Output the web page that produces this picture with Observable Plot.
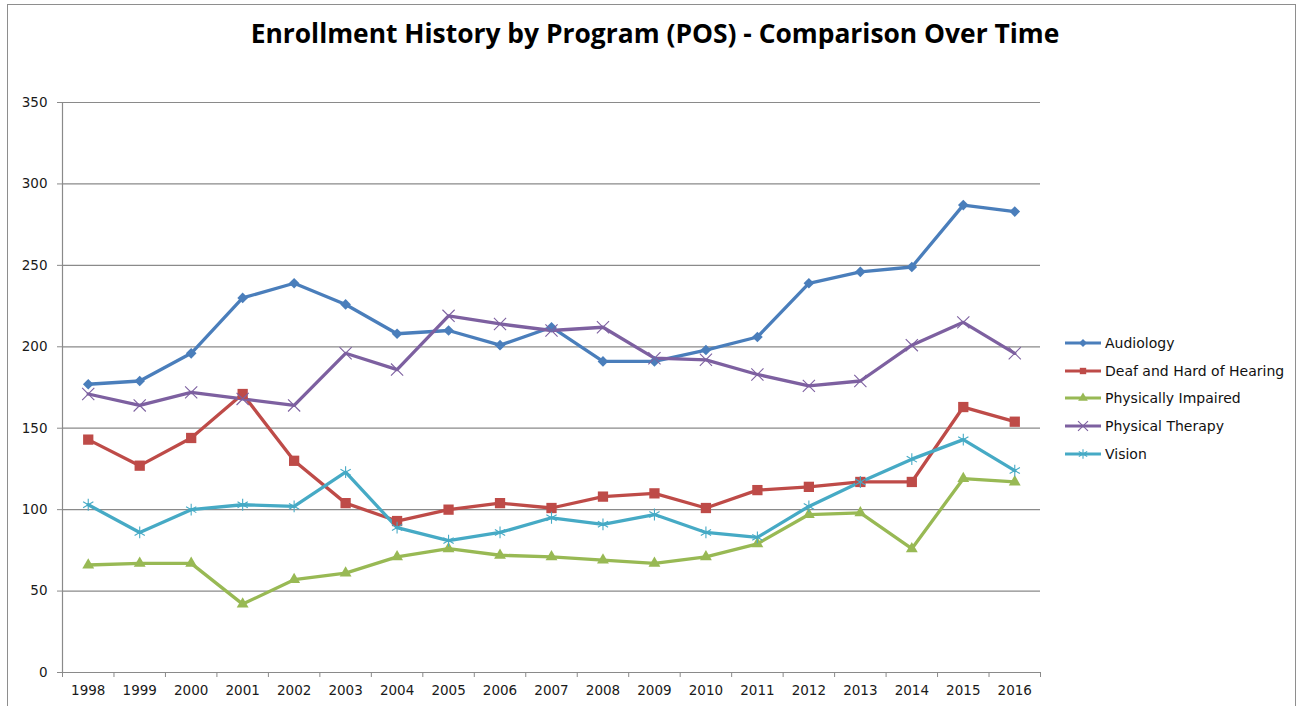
<!DOCTYPE html>
<html>
<head>
<meta charset="utf-8">
<script src="https://cdn.jsdelivr.net/npm/d3@7"></script>
<script src="https://cdn.jsdelivr.net/npm/@observablehq/plot@0.6"></script>
<style>
  html, body { margin: 0; padding: 0; background: #fff; }
  #wrap { position: relative; width: 1304px; height: 706px; overflow: hidden; font-family: "DejaVu Sans", sans-serif; }
  #frame { position: absolute; left: 7px; top: 4px; width: 1289px; height: 760px; border: 1.5px solid #8e8e8e; box-sizing: border-box; }
  #title { position: absolute; left: 0; width: 1310px; top: 15px; text-align: center; font-family: "Open Sans", Lato, sans-serif; font-weight: bold; font-size: 26.4px; color: #000; }
  #chart { position: absolute; left: 0; top: 0; }
  #legend { position: absolute; left: 1064px; top: 329px; font-size: 14px; color: #111; }
  #legend .row { height: 27.8px; display: flex; align-items: center; }
  #legend svg { margin-right: 3px; }
</style>
</head>
<body>
<div id="wrap">
  <div id="frame"></div>
  <div id="chart"></div>
  <div id="title">Enrollment History by Program (POS) - Comparison Over Time</div>
  <div id="legend"></div>
</div>
<script>
const years = [1998,1999,2000,2001,2002,2003,2004,2005,2006,2007,2008,2009,2010,2011,2012,2013,2014,2015,2016];
const seriesNames = ["Audiology","Deaf and Hard of Hearing","Physically Impaired","Physical Therapy","Vision"];
const audiology = [177,179,196,230,239,226,208,210,201,212,191,191,198,206,239,246,249,287,283];
const deafHoH   = [143,127,144,171,130,104,93,100,104,101,108,110,101,112,114,117,117,163,154];
const physImp   = [66,67,67,42,57,61,71,76,72,71,69,67,71,79,97,98,76,119,117];
const physTher  = [171,164,172,168,164,196,186,219,214,210,212,193,192,183,176,179,201,215,196];
const vision    = [103,86,100,103,102,123,89,81,86,95,91,97,86,83,102,117,131,143,124];
const yTicks = [0,50,100,150,200,250,300,350];

const colors = ["#4A7EBB","#BE4B48","#98B954","#7D60A0","#46AAC5"];
const symbols = ["diamond2","square","triangle","times","asterisk"];
const filled = [true,true,true,false,false];
const sizes = [4.8,5.8,4.4,5.6,5.6];
const values = [audiology, deafHoH, physImp, physTher, vision];

const rows = [];
seriesNames.forEach((s, i) => years.forEach((y, j) => rows.push({series: s, idx: i, year: y, value: values[i][j]})));

const boundaries = years.map(y => y - 0.5).concat([years[years.length - 1] + 0.5]);

const marks = [
  Plot.gridY(yTicks.filter(t => t > 0), {stroke: "#8a8a8a", strokeOpacity: 1, strokeWidth: 1.2}),
  Plot.ruleX([boundaries[0]], {stroke: "#8a8a8a", strokeWidth: 1.2}),
  Plot.ruleY([0], {stroke: "#8a8a8a", strokeWidth: 1.2}),
  Plot.axisY({ticks: yTicks, tickSize: 5, tickPadding: 10, stroke: "#8a8a8a", fill: "#1a1a1a", fontSize: 13.5, label: null}),
  Plot.axisX({ticks: boundaries, tickSize: 5, tickFormat: () => "", stroke: "#8a8a8a", label: null}),
  Plot.axisX({ticks: years, tickSize: 0, tickPadding: 13, tickFormat: d => String(d), fill: "#1a1a1a", fontSize: 13.5, label: null})
];
seriesNames.forEach((s, i) => {
  const data = rows.filter(r => r.idx === i);
  marks.push(Plot.line(data, {x: "year", y: "value", stroke: colors[i], strokeWidth: 3.3}));
});
seriesNames.forEach((s, i) => {
  const data = rows.filter(r => r.idx === i);
  if (filled[i]) {
    marks.push(Plot.dot(data, {x: "year", y: "value", symbol: () => symbols[i], fill: colors[i], stroke: "none", r: sizes[i]}));
  } else {
    marks.push(Plot.dot(data, {x: "year", y: "value", symbol: () => symbols[i], fill: "none", stroke: colors[i], strokeWidth: 1.1, r: sizes[i]}));
  }
});

const chart = Plot.plot({
  width: 1304,
  height: 706,
  marginTop: 102,
  marginBottom: 34,
  marginLeft: 62,
  marginRight: 264,
  style: {fontFamily: "'DejaVu Sans', sans-serif", fontSize: "13.5px", background: "transparent"},
  x: {type: "linear", domain: [boundaries[0], boundaries[boundaries.length - 1]]},
  y: {domain: [0, 350]},
  symbol: {type: "identity"},
  marks
});
document.getElementById("chart").appendChild(chart);

// legend
const legend = document.getElementById("legend");
const symMap = {diamond2: d3.symbolDiamond2, square: d3.symbolSquare, triangle: d3.symbolTriangle, times: d3.symbolTimes, asterisk: d3.symbolAsterisk};
seriesNames.forEach((s, i) => {
  const row = document.createElement("div");
  row.className = "row";
  const svg = d3.create("svg").attr("width", 38).attr("height", 14);
  svg.append("line").attr("x1", 1).attr("x2", 37).attr("y1", 7).attr("y2", 7).attr("stroke", colors[i]).attr("stroke-width", 3);
  const sz = Math.PI * Math.pow(filled[i] ? 3.6 : 4.6, 2);
  svg.append("path").attr("transform", "translate(19,7)").attr("d", d3.symbol(symMap[symbols[i]], sz)())
    .attr("fill", filled[i] ? colors[i] : "none").attr("stroke", filled[i] ? "none" : colors[i]).attr("stroke-width", 1.1);
  row.appendChild(svg.node());
  const t = document.createElement("span");
  t.textContent = s;
  row.appendChild(t);
  legend.appendChild(row);
});
</script>
</body>
</html>
